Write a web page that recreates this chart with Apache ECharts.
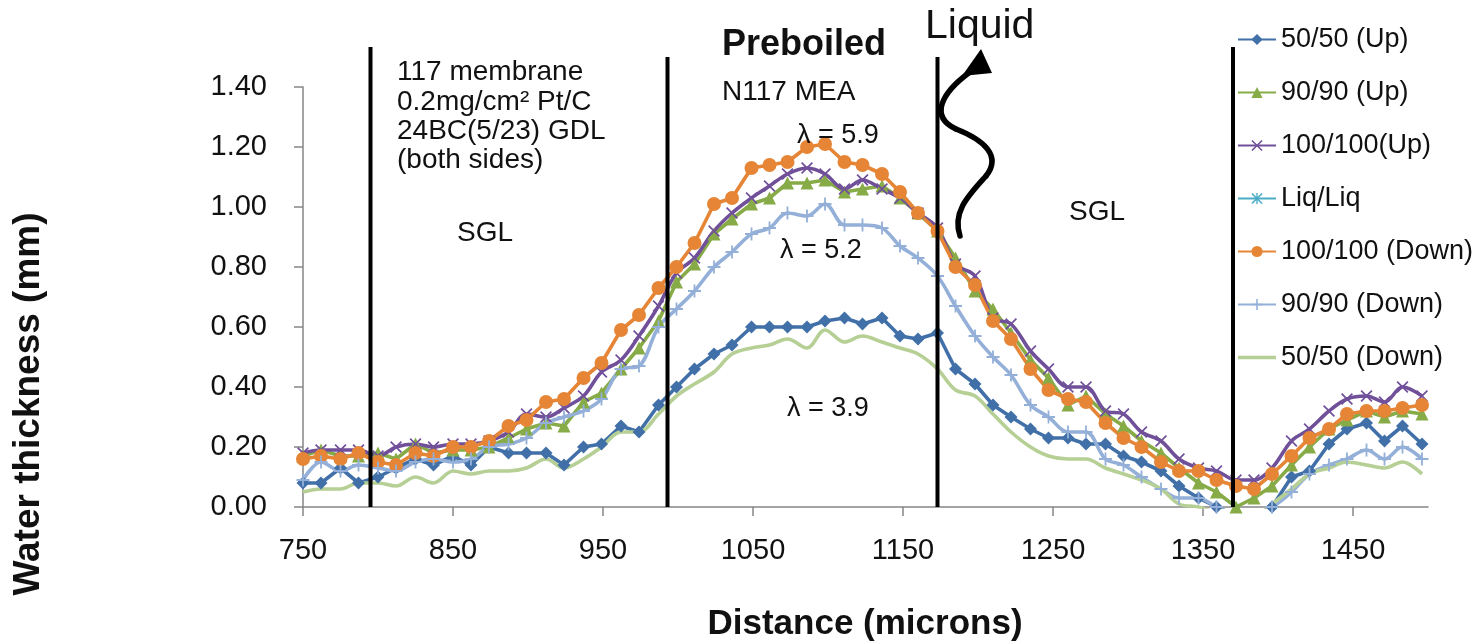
<!DOCTYPE html>
<html><head><meta charset="utf-8">
<script src="https://cdn.jsdelivr.net/npm/echarts@6/dist/echarts.min.js"></script>
<style>html,body{margin:0;padding:0;background:#fff}#c{width:1480px;height:644px}</style>
</head><body><div id="c"></div>
<script>
const distances = [750,762,775,787,800,812,825,837,850,862,
  874,887,899,912,924,937,949,962,974,987,
  999,1011,1024,1036,1049,1061,1073,1086,1098,1111,
  1123,1136,1148,1160,1173,1185,1198,1210,1222,1235,
  1247,1260,1272,1285,1297,1309,1322,1334,1347,1359,
  1372,1384,1396,1409,1421,1434,1446,1459,1471,1483,1496];
const xTickLabels = [750,850,950,1050,1150,1250,1350,1450];
const seriesNames = ['50/50 (Up)','90/90 (Up)','100/100(Up)','Liq/Liq','100/100 (Down)','90/90 (Down)','50/50 (Down)'];
const up5050 = [0.08,0.08,0.13,0.08,0.10,0.13,0.16,0.14,0.17,0.14,0.20,
  0.18,0.18,0.18,0.14,0.20,0.21,0.27,0.25,0.34,0.40,
  0.46,0.51,0.54,0.60,0.60,0.60,0.60,0.62,0.63,0.61,
  0.63,0.57,0.56,0.58,0.46,0.41,0.34,0.30,0.26,0.23,
  0.23,0.21,0.21,0.17,0.15,0.12,0.07,0.03,0.00,-0.03,
  -0.03,0.00,0.10,0.12,0.21,0.26,0.28,0.22,0.27,0.21];
const up9090 = [0.17,0.19,0.17,0.17,0.18,0.16,0.21,0.18,0.19,0.19,0.20,
  0.23,0.26,0.28,0.27,0.35,0.38,0.46,0.53,0.62,0.75,
  0.81,0.91,0.96,1.01,1.03,1.08,1.08,1.09,1.05,1.06,
  1.07,1.03,0.98,0.92,0.83,0.72,0.66,0.58,0.49,0.43,
  0.34,0.37,0.31,0.27,0.22,0.18,0.13,0.08,0.05,0.00,
  0.03,0.07,0.14,0.20,0.26,0.29,0.32,0.30,0.32,0.31];
const up100 = [0.18,0.19,0.19,0.19,0.17,0.20,0.21,0.20,0.21,0.21,0.22,
  0.25,0.31,0.30,0.33,0.37,0.45,0.49,0.57,0.67,0.78,
  0.83,0.92,0.98,1.03,1.07,1.11,1.13,1.11,1.06,1.09,
  1.06,1.03,0.98,0.93,0.81,0.77,0.63,0.61,0.52,0.46,
  0.40,0.40,0.32,0.31,0.25,0.22,0.16,0.13,0.12,0.09,
  0.09,0.13,0.22,0.26,0.32,0.36,0.37,0.35,0.40,0.37];
const liqLiq = [];
const down100 = [0.16,0.17,0.16,0.18,0.15,0.14,0.18,0.17,0.20,0.20,0.22,
  0.27,0.29,0.35,0.36,0.43,0.48,0.59,0.64,0.73,0.80,
  0.88,1.01,1.03,1.13,1.14,1.15,1.20,1.21,1.15,1.14,
  1.11,1.05,0.98,0.92,0.80,0.74,0.62,0.56,0.46,0.39,
  0.36,0.35,0.28,0.23,0.20,0.15,0.12,0.12,0.09,0.07,
  0.06,0.11,0.17,0.23,0.26,0.31,0.32,0.32,0.33,0.34];
const down9090 = [0.09,0.15,0.12,0.14,0.13,0.12,0.15,0.16,0.15,0.16,0.20,
  0.21,0.23,0.28,0.30,0.32,0.36,0.46,0.47,0.60,0.66,
  0.72,0.80,0.85,0.91,0.93,0.98,0.97,1.01,0.94,0.94,
  0.93,0.87,0.83,0.77,0.67,0.57,0.50,0.44,0.34,0.30,
  0.25,0.25,0.16,0.14,0.10,0.06,0.03,0.03,0.00,-0.02,
  -0.02,0.00,0.05,0.11,0.14,0.16,0.19,0.16,0.20,0.16];
const down5050 = [0.05,0.06,0.06,0.08,0.08,0.07,0.10,0.08,0.12,0.11,0.12,
  0.12,0.13,0.16,0.13,0.16,0.20,0.25,0.25,0.31,0.37,
  0.41,0.45,0.51,0.53,0.54,0.56,0.53,0.59,0.55,0.57,
  0.55,0.53,0.51,0.46,0.39,0.37,0.31,0.25,0.20,0.17,
  0.16,0.16,0.13,0.11,0.09,0.06,0.01,0.00,-0.02,-0.03,
  -0.03,0.01,0.06,0.11,0.13,0.15,0.14,0.13,0.15,0.11];
const dividerX = [795, 993, 1173, 1370];
const dividerTop = [1.533, 1.5, 1.5, 1.533];

const FONT = '"Liberation Sans", Arial, sans-serif';
const colors = ['#4170A8','#86AB47','#71509A','#4BACC6','#E58535','#94B0D8','#B5CF95'];
const SYM_X = 'path://M1,0L5,4L9,0L10,1L6,5L10,9L9,10L5,6L1,10L0,9L4,5L0,1Z';
const SYM_PLUS = 'path://M4.3,0H5.7V4.3H10V5.7H5.7V10H4.3V5.7H0V4.3H4.3Z';
const SYM_AST = 'path://M1,0L5,4L9,0L10,1L6,5L10,9L9,10L5,6L1,10L0,9L4,5L0,1ZM4.4,0H5.6V10H4.4Z';
const SYM_LINE = 'path://M0,0H40V3.6H0Z';
function pairs(vals){ return vals.map((v,i)=>[distances[i], v]); }

const defs = [
  {data: up5050, symbol:'diamond', size:13, smooth:false},
  {data: up9090, symbol:'triangle', size:13, smooth:false},
  {data: up100, symbol:SYM_X, size:12, smooth:0.35},
  {data: liqLiq, symbol:SYM_AST, size:13, smooth:false},
  {data: down100, symbol:'circle', size:14, smooth:false},
  {data: down9090, symbol:SYM_PLUS, size:13, smooth:0.35},
  {data: down5050, symbol:'none', size:0, smooth:0.35}
];

const chart = echarts.init(document.getElementById('c'), null, {renderer:'canvas'});
const series = defs.map((d,i)=>({
  name: seriesNames[i], type:'line', data: pairs(d.data),
  symbol: d.symbol, symbolSize: d.size, showSymbol: d.symbol !== 'none',
  smooth: d.smooth, clip: true,
  lineStyle:{color: colors[i], width: 3.6},
  itemStyle:{color: colors[i]},
  emphasis:{disabled:true}, animation:false
}));

chart.setOption({
  animation:false,
  textStyle:{fontFamily: FONT},
  grid:{left:303, right:52, top:87, bottom:137, containLabel:false},
  legend:{
    orient:'vertical', left:1237, top:26, padding:0, itemWidth:38, itemHeight:14, itemGap:26,
    textStyle:{fontFamily:FONT, fontSize:27, color:'#111'},
    data: seriesNames.map((n,i)=> i===6 ? {name:n, icon:SYM_LINE} : {name:n})
  },
  xAxis:{
    type:'value', min:750, max:1500,
    axisLine:{show:true, lineStyle:{color:'#868686', width:1.5}},
    axisTick:{show:true, length:9, customValues: xTickLabels, lineStyle:{color:'#868686', width:1.5}},
    axisLabel:{customValues: xTickLabels, fontSize:29, color:'#111', margin:29, fontFamily:FONT, formatter:v=>String(v)},
    splitLine:{show:false}
  },
  yAxis:{
    type:'value', min:0, max:1.4, interval:0.2,
    axisLine:{show:true, lineStyle:{color:'#868686', width:1.5}},
    axisTick:{show:true, length:9, lineStyle:{color:'#868686', width:1.5}},
    axisLabel:{fontSize:29, color:'#111', margin:36, fontFamily:FONT, formatter:v=>v.toFixed(2)},
    splitLine:{show:false}
  },
  series: series
});

function buildGraphics(){
  const els = [];
  dividerX.forEach((x,i)=>{
    const p0 = chart.convertToPixel({gridIndex:0}, [x, 0]);
    const p1 = chart.convertToPixel({gridIndex:0}, [x, dividerTop[i]]);
    els.push({type:'line', shape:{x1:p0[0], y1:p0[1], x2:p1[0], y2:p1[1]}, style:{stroke:'#000', lineWidth:4}, z:50});
  });
  const txt = (t, x, y, size, opt={}) => els.push({type:'text', x, y, z:60, style:Object.assign({text:t, fontFamily:FONT, fontSize:size, fill:'#111', textAlign:'left', textVerticalAlign:'middle'}, opt)});
  txt('117 membrane', 397, 72, 28);
  txt('0.2mg/cm\u00B2 Pt/C', 397, 102, 28);
  txt('24BC(5/23) GDL', 397, 131, 28);
  txt('(both sides)', 397, 160, 28);
  txt('SGL', 485, 233, 28, {textAlign:'center'});
  txt('Preboiled', 722, 45, 36, {fontWeight:'bold'});
  txt('N117 MEA', 722, 92, 28);
  txt('\u03BB = 5.9', 797, 136, 27);
  txt('\u03BB = 5.2', 780, 251, 27);
  txt('\u03BB = 3.9', 787, 409, 27);
  txt('Liquid', 925, 27, 41);
  txt('SGL', 1097, 212, 28, {textAlign:'center'});
  txt('Distance (microns)', 865, 624, 35, {textAlign:'center', fontWeight:'bold'});
  els.push({type:'text', x:29, y:404, rotation:Math.PI/2, z:60,
    style:{text:'Water thickness (mm)', fontFamily:FONT, fontSize:37, fontWeight:'bold', fill:'#111', textAlign:'center', textVerticalAlign:'middle'}});
  // wavy arrow
  const arrowSegs = [
    [[960,236],[952,212],[968,196],[986,176]],
    [[986,176],[1002,156],[984,140],[956,129]],
    [[956,129],[930,117],[940,94],[970,72]]
  ];
  arrowSegs.forEach(s=>els.push({type:'bezierCurve', z:55,
    shape:{x1:s[0][0], y1:s[0][1], cpx1:s[1][0], cpy1:s[1][1], cpx2:s[2][0], cpy2:s[2][1], x2:s[3][0], y2:s[3][1]},
    style:{stroke:'#000', lineWidth:5.5, fill:null, lineCap:'round'}}));
  els.push({type:'polygon', z:55, shape:{points:[[981,49],[962,76],[992,73]]}, style:{fill:'#000'}});
  chart.setOption({graphic: els});
}
buildGraphics();
</script></body></html>
